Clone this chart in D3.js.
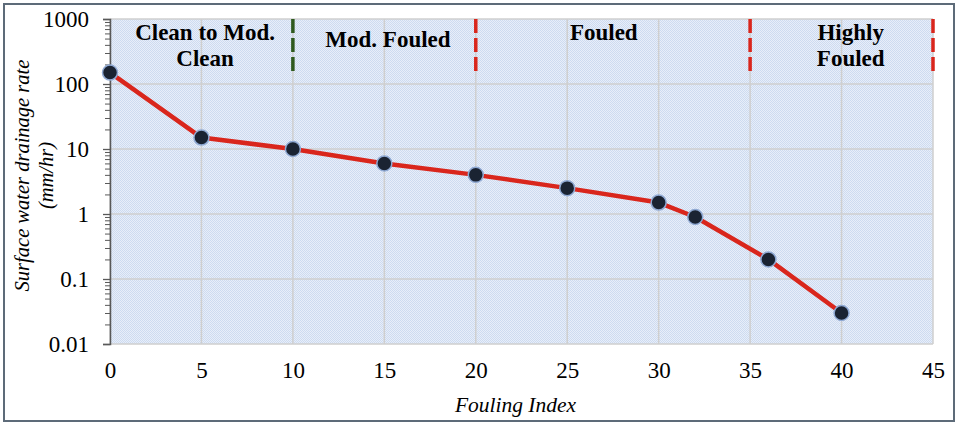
<!DOCTYPE html>
<html>
<head>
<meta charset="utf-8">
<script src="https://cdn.jsdelivr.net/npm/d3@7"></script>
<style>
  html, body { margin: 0; padding: 0; background: #fff; }
  svg { display: block; }
  svg text { font-family: "Liberation Serif", "Times New Roman", Times, "DejaVu Serif", serif; }
</style>
</head>
<body>
<svg id="chart" width="958" height="424"></svg>
<script>
// Drainage rate measurements against fouling index
const foulingIndex = [0, 5, 10, 15, 20, 25, 30, 32, 36, 40];
const drainageRate = [150, 15, 10, 6, 4, 2.5, 1.5, 0.9, 0.2, 0.03];

const xTicks = [0, 5, 10, 15, 20, 25, 30, 35, 40, 45];
const yTicks = [0.01, 0.1, 1, 10, 100, 1000];
const yTickLabels = ["0.01", "0.1", "1", "10", "100", "1000"];

// Fouling class boundaries and class names
const boundaryValues = [10, 20, 35, 45];
const boundaryColors = ["#2f5a1e", "#d9261c", "#d9261c", "#d9261c"];
const classLabels = [["Clean to Mod.", "Clean"], ["Mod. Fouled"], ["Fouled"], ["Highly", "Fouled"]];
const classCenters = [5.2, 15.2, 27.0, 40.5];

const svg = d3.select("#chart");
const W = 958, H = 424;
const plot = { left: 110, right: 933, top: 19, bottom: 344 };

const x = d3.scaleLinear().domain([0, 45]).range([plot.left, plot.right]);
const y = d3.scaleLog().domain([0.01, 1000]).range([plot.bottom, plot.top]);

// outer frame
svg.append("rect")
  .attr("x", 4).attr("y", 4).attr("width", W - 8).attr("height", H - 7)
  .attr("fill", "#fff").attr("stroke", "#5d6b79").attr("stroke-width", 2);

// dotted light-blue fill for the plotting area
const defs = svg.append("defs");
const pat = defs.append("pattern")
  .attr("id", "dots").attr("width", 2).attr("height", 2)
  .attr("patternUnits", "userSpaceOnUse");
pat.append("rect").attr("width", 2).attr("height", 2).attr("fill", "#e8eef9");
pat.append("rect").attr("width", 1).attr("height", 1).attr("fill", "#cddbf0");
pat.append("rect").attr("x", 1).attr("y", 1).attr("width", 1).attr("height", 1).attr("fill", "#cddbf0");

svg.append("rect")
  .attr("x", plot.left).attr("y", plot.top)
  .attr("width", plot.right - plot.left).attr("height", plot.bottom - plot.top)
  .attr("fill", "url(#dots)");

// gridlines
const grid = svg.append("g").attr("stroke", "#cfcfcf").attr("stroke-width", 1.5);
grid.selectAll("line.gx").data(xTicks).join("line")
  .attr("x1", d => x(d)).attr("x2", d => x(d))
  .attr("y1", plot.top).attr("y2", plot.bottom);
grid.selectAll("line.gy").data(yTicks).join("line")
  .attr("x1", plot.left).attr("x2", plot.right)
  .attr("y1", d => y(d)).attr("y2", d => y(d));

// y axis with minor ticks
const minorTicks = [];
for (let e = -2; e < 3; e++) for (let m = 2; m <= 9; m++) minorTicks.push(m * Math.pow(10, e));
const yAxisG = svg.append("g").attr("transform", `translate(${plot.left},0)`);
yAxisG.append("g")
  .call(d3.axisLeft(y).tickValues(minorTicks).tickSize(5).tickFormat(""))
  .call(g => g.select(".domain").remove())
  .call(g => g.selectAll("line").attr("stroke", "#595959"));
yAxisG.append("g")
  .call(d3.axisLeft(y).tickValues(yTicks).tickSize(7).tickPadding(14)
    .tickFormat((d, i) => yTickLabels[i]))
  .attr("font-family", null)
  .call(g => g.select(".domain").attr("stroke", "#595959").attr("stroke-width", 1.5))
  .call(g => g.selectAll("line").attr("stroke", "#595959").attr("stroke-width", 1.3))
  .call(g => g.selectAll("text").attr("font-size", 23).attr("fill", "#000"));

// x axis labels (no axis line)
svg.append("g")
  .attr("transform", `translate(0,${plot.bottom})`)
  .call(d3.axisBottom(x).tickValues(xTicks).tickSize(0).tickPadding(18))
  .attr("font-family", null)
  .call(g => g.select(".domain").remove())
  .call(g => g.selectAll("text").attr("font-size", 23).attr("fill", "#000"));

// class boundary dashes
svg.append("g").selectAll("line").data(boundaryValues).join("line")
  .attr("x1", d => x(d)).attr("x2", d => x(d))
  .attr("y1", plot.top).attr("y2", 73)
  .attr("stroke", (d, i) => boundaryColors[i])
  .attr("stroke-width", 3.5)
  .attr("stroke-dasharray", "14,5");

// class names
const lbl = svg.append("g")
  .attr("font-weight", "bold").attr("font-size", 23)
  .attr("text-anchor", "middle").attr("fill", "#000");
classLabels.forEach((lines, i) => {
  const t = lbl.append("text").attr("x", x(classCenters[i]));
  lines.forEach((s, j) => {
    t.append("tspan").attr("x", x(classCenters[i]))
      .attr("y", (lines.length === 1 && i === 1 ? 47 : 40) + j * 26)
      .text(s);
  });
});

// data line
const line = d3.line().x((d, i) => x(foulingIndex[i])).y(d => y(d));
svg.append("path").datum(drainageRate)
  .attr("d", line).attr("fill", "none")
  .attr("stroke", "#d9261c").attr("stroke-width", 4.5)
  .attr("stroke-linejoin", "round");

svg.append("g").selectAll("circle").data(drainageRate).join("circle")
  .attr("cx", (d, i) => x(foulingIndex[i])).attr("cy", d => y(d))
  .attr("r", 7.5).attr("fill", "#1a2332")
  .attr("stroke", "#8fa9d3").attr("stroke-width", 1.5);

// axis titles
svg.append("text")
  .attr("transform", `translate(${x(22.5) - 6},412)`)
  .attr("text-anchor", "middle")
  .attr("font-style", "italic").attr("font-size", 21.5).attr("fill", "#000")
  .text("Fouling Index");

const yt = svg.append("text")
  .attr("transform", `translate(29,${(plot.top + plot.bottom) / 2 - 6}) rotate(-90)`)
  .attr("text-anchor", "middle")
  .attr("font-style", "italic").attr("font-size", 20.5).attr("fill", "#000");
yt.append("tspan").attr("x", 0).attr("y", 0).text("Surface water drainage rate");
yt.append("tspan").attr("x", 0).attr("y", 24).text("(mm/hr)");
</script>
</body>
</html>
